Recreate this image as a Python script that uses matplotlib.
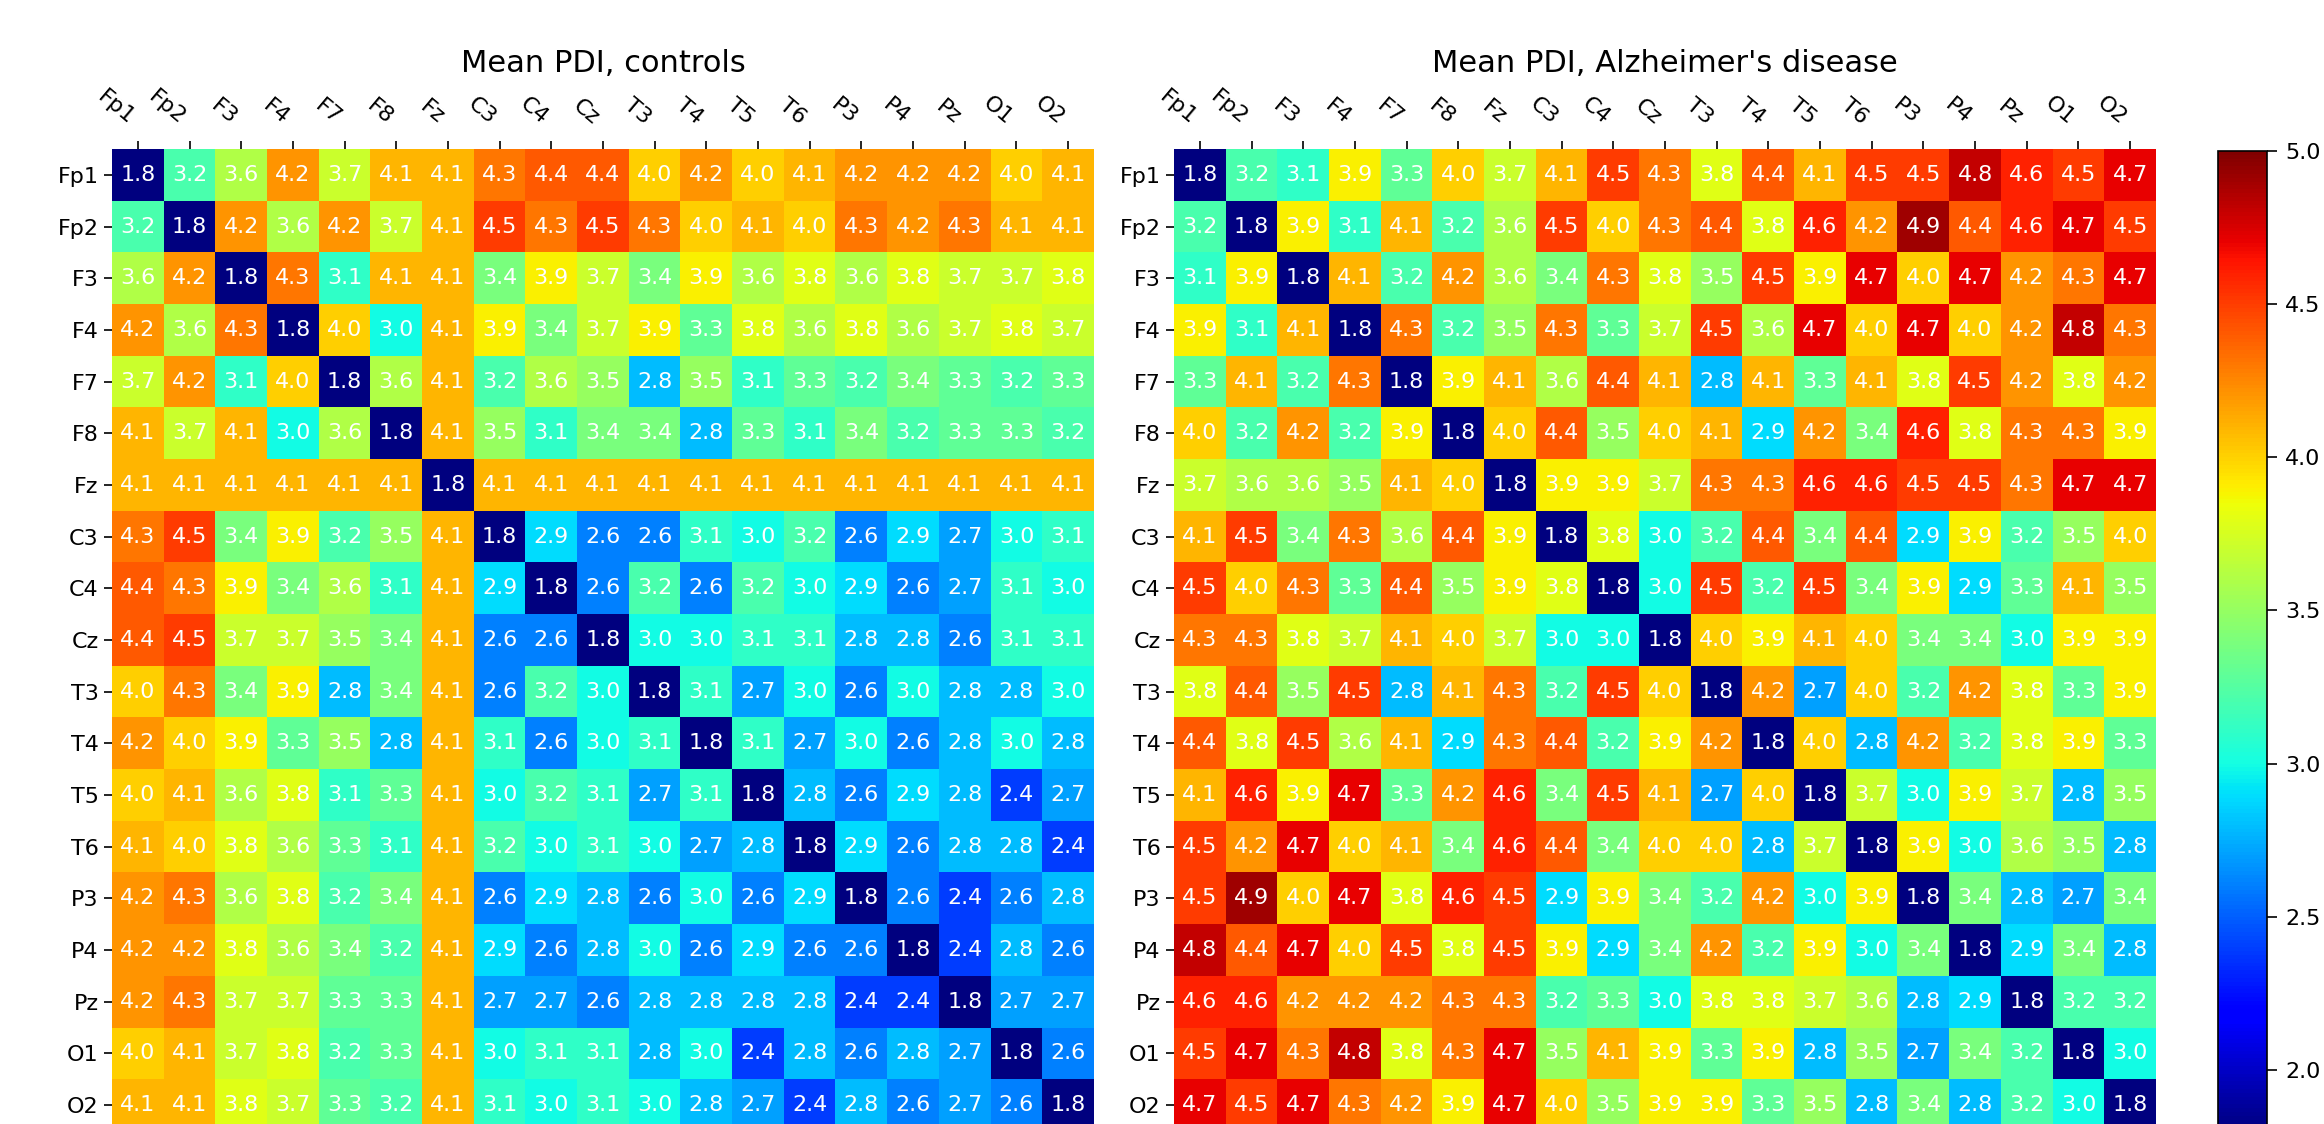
import numpy as np
import matplotlib
matplotlib.use("Agg")
import matplotlib.pyplot as plt

channels = ["Fp1", "Fp2", "F3", "F4", "F7", "F8", "Fz", "C3", "C4", "Cz",
            "T3", "T4", "T5", "T6", "P3", "P4", "Pz", "O1", "O2"]

# mean phase-difference index, healthy controls
pdi_controls = [
    [1.8, 3.2, 3.6, 4.2, 3.7, 4.1, 4.1, 4.3, 4.4, 4.4, 4.0, 4.2, 4.0, 4.1, 4.2, 4.2, 4.2, 4.0, 4.1],
    [3.2, 1.8, 4.2, 3.6, 4.2, 3.7, 4.1, 4.5, 4.3, 4.5, 4.3, 4.0, 4.1, 4.0, 4.3, 4.2, 4.3, 4.1, 4.1],
    [3.6, 4.2, 1.8, 4.3, 3.1, 4.1, 4.1, 3.4, 3.9, 3.7, 3.4, 3.9, 3.6, 3.8, 3.6, 3.8, 3.7, 3.7, 3.8],
    [4.2, 3.6, 4.3, 1.8, 4.0, 3.0, 4.1, 3.9, 3.4, 3.7, 3.9, 3.3, 3.8, 3.6, 3.8, 3.6, 3.7, 3.8, 3.7],
    [3.7, 4.2, 3.1, 4.0, 1.8, 3.6, 4.1, 3.2, 3.6, 3.5, 2.8, 3.5, 3.1, 3.3, 3.2, 3.4, 3.3, 3.2, 3.3],
    [4.1, 3.7, 4.1, 3.0, 3.6, 1.8, 4.1, 3.5, 3.1, 3.4, 3.4, 2.8, 3.3, 3.1, 3.4, 3.2, 3.3, 3.3, 3.2],
    [4.1, 4.1, 4.1, 4.1, 4.1, 4.1, 1.8, 4.1, 4.1, 4.1, 4.1, 4.1, 4.1, 4.1, 4.1, 4.1, 4.1, 4.1, 4.1],
    [4.3, 4.5, 3.4, 3.9, 3.2, 3.5, 4.1, 1.8, 2.9, 2.6, 2.6, 3.1, 3.0, 3.2, 2.6, 2.9, 2.7, 3.0, 3.1],
    [4.4, 4.3, 3.9, 3.4, 3.6, 3.1, 4.1, 2.9, 1.8, 2.6, 3.2, 2.6, 3.2, 3.0, 2.9, 2.6, 2.7, 3.1, 3.0],
    [4.4, 4.5, 3.7, 3.7, 3.5, 3.4, 4.1, 2.6, 2.6, 1.8, 3.0, 3.0, 3.1, 3.1, 2.8, 2.8, 2.6, 3.1, 3.1],
    [4.0, 4.3, 3.4, 3.9, 2.8, 3.4, 4.1, 2.6, 3.2, 3.0, 1.8, 3.1, 2.7, 3.0, 2.6, 3.0, 2.8, 2.8, 3.0],
    [4.2, 4.0, 3.9, 3.3, 3.5, 2.8, 4.1, 3.1, 2.6, 3.0, 3.1, 1.8, 3.1, 2.7, 3.0, 2.6, 2.8, 3.0, 2.8],
    [4.0, 4.1, 3.6, 3.8, 3.1, 3.3, 4.1, 3.0, 3.2, 3.1, 2.7, 3.1, 1.8, 2.8, 2.6, 2.9, 2.8, 2.4, 2.7],
    [4.1, 4.0, 3.8, 3.6, 3.3, 3.1, 4.1, 3.2, 3.0, 3.1, 3.0, 2.7, 2.8, 1.8, 2.9, 2.6, 2.8, 2.8, 2.4],
    [4.2, 4.3, 3.6, 3.8, 3.2, 3.4, 4.1, 2.6, 2.9, 2.8, 2.6, 3.0, 2.6, 2.9, 1.8, 2.6, 2.4, 2.6, 2.8],
    [4.2, 4.2, 3.8, 3.6, 3.4, 3.2, 4.1, 2.9, 2.6, 2.8, 3.0, 2.6, 2.9, 2.6, 2.6, 1.8, 2.4, 2.8, 2.6],
    [4.2, 4.3, 3.7, 3.7, 3.3, 3.3, 4.1, 2.7, 2.7, 2.6, 2.8, 2.8, 2.8, 2.8, 2.4, 2.4, 1.8, 2.7, 2.7],
    [4.0, 4.1, 3.7, 3.8, 3.2, 3.3, 4.1, 3.0, 3.1, 3.1, 2.8, 3.0, 2.4, 2.8, 2.6, 2.8, 2.7, 1.8, 2.6],
    [4.1, 4.1, 3.8, 3.7, 3.3, 3.2, 4.1, 3.1, 3.0, 3.1, 3.0, 2.8, 2.7, 2.4, 2.8, 2.6, 2.7, 2.6, 1.8],
]

# mean phase-difference index, Alzheimer's patients
pdi_ad = [
    [1.8, 3.2, 3.1, 3.9, 3.3, 4.0, 3.7, 4.1, 4.5, 4.3, 3.8, 4.4, 4.1, 4.5, 4.5, 4.8, 4.6, 4.5, 4.7],
    [3.2, 1.8, 3.9, 3.1, 4.1, 3.2, 3.6, 4.5, 4.0, 4.3, 4.4, 3.8, 4.6, 4.2, 4.9, 4.4, 4.6, 4.7, 4.5],
    [3.1, 3.9, 1.8, 4.1, 3.2, 4.2, 3.6, 3.4, 4.3, 3.8, 3.5, 4.5, 3.9, 4.7, 4.0, 4.7, 4.2, 4.3, 4.7],
    [3.9, 3.1, 4.1, 1.8, 4.3, 3.2, 3.5, 4.3, 3.3, 3.7, 4.5, 3.6, 4.7, 4.0, 4.7, 4.0, 4.2, 4.8, 4.3],
    [3.3, 4.1, 3.2, 4.3, 1.8, 3.9, 4.1, 3.6, 4.4, 4.1, 2.8, 4.1, 3.3, 4.1, 3.8, 4.5, 4.2, 3.8, 4.2],
    [4.0, 3.2, 4.2, 3.2, 3.9, 1.8, 4.0, 4.4, 3.5, 4.0, 4.1, 2.9, 4.2, 3.4, 4.6, 3.8, 4.3, 4.3, 3.9],
    [3.7, 3.6, 3.6, 3.5, 4.1, 4.0, 1.8, 3.9, 3.9, 3.7, 4.3, 4.3, 4.6, 4.6, 4.5, 4.5, 4.3, 4.7, 4.7],
    [4.1, 4.5, 3.4, 4.3, 3.6, 4.4, 3.9, 1.8, 3.8, 3.0, 3.2, 4.4, 3.4, 4.4, 2.9, 3.9, 3.2, 3.5, 4.0],
    [4.5, 4.0, 4.3, 3.3, 4.4, 3.5, 3.9, 3.8, 1.8, 3.0, 4.5, 3.2, 4.5, 3.4, 3.9, 2.9, 3.3, 4.1, 3.5],
    [4.3, 4.3, 3.8, 3.7, 4.1, 4.0, 3.7, 3.0, 3.0, 1.8, 4.0, 3.9, 4.1, 4.0, 3.4, 3.4, 3.0, 3.9, 3.9],
    [3.8, 4.4, 3.5, 4.5, 2.8, 4.1, 4.3, 3.2, 4.5, 4.0, 1.8, 4.2, 2.7, 4.0, 3.2, 4.2, 3.8, 3.3, 3.9],
    [4.4, 3.8, 4.5, 3.6, 4.1, 2.9, 4.3, 4.4, 3.2, 3.9, 4.2, 1.8, 4.0, 2.8, 4.2, 3.2, 3.8, 3.9, 3.3],
    [4.1, 4.6, 3.9, 4.7, 3.3, 4.2, 4.6, 3.4, 4.5, 4.1, 2.7, 4.0, 1.8, 3.7, 3.0, 3.9, 3.7, 2.8, 3.5],
    [4.5, 4.2, 4.7, 4.0, 4.1, 3.4, 4.6, 4.4, 3.4, 4.0, 4.0, 2.8, 3.7, 1.8, 3.9, 3.0, 3.6, 3.5, 2.8],
    [4.5, 4.9, 4.0, 4.7, 3.8, 4.6, 4.5, 2.9, 3.9, 3.4, 3.2, 4.2, 3.0, 3.9, 1.8, 3.4, 2.8, 2.7, 3.4],
    [4.8, 4.4, 4.7, 4.0, 4.5, 3.8, 4.5, 3.9, 2.9, 3.4, 4.2, 3.2, 3.9, 3.0, 3.4, 1.8, 2.9, 3.4, 2.8],
    [4.6, 4.6, 4.2, 4.2, 4.2, 4.3, 4.3, 3.2, 3.3, 3.0, 3.8, 3.8, 3.7, 3.6, 2.8, 2.9, 1.8, 3.2, 3.2],
    [4.5, 4.7, 4.3, 4.8, 3.8, 4.3, 4.7, 3.5, 4.1, 3.9, 3.3, 3.9, 2.8, 3.5, 2.7, 3.4, 3.2, 1.8, 3.0],
    [4.7, 4.5, 4.7, 4.3, 4.2, 3.9, 4.7, 4.0, 3.5, 3.9, 3.9, 3.3, 3.5, 2.8, 3.4, 2.8, 3.2, 3.0, 1.8],
]

titles = ["Mean PDI, controls", "Mean PDI, Alzheimer's disease"]
cbar_ticks = [2.0, 2.5, 3.0, 3.5, 4.0, 4.5, 5.0]
vmin, vmax = 1.8, 5.0

W, H = 2324, 1124
fig = plt.figure(figsize=(W / 100, H / 100), dpi=100)


def axes_px(x0, x1, y0, y1):
    # place an axes by its pixel box, measured from the top-left corner
    return fig.add_axes([x0 / W, 1 - y1 / H, (x1 - x0) / W, (y1 - y0) / H])


def draw_matrix(ax, mat, title):
    mat = np.asarray(mat)
    im = ax.imshow(mat, cmap="jet", vmin=vmin, vmax=vmax, aspect="auto",
                   interpolation="nearest")
    for i in range(mat.shape[0]):
        for j in range(mat.shape[1]):
            ax.text(j, i, f"{mat[i, j]:.1f}", ha="center", va="center",
                    color="white", fontsize=16)
    n = len(channels)
    ax.set_xticks(range(n))
    ax.set_yticks(range(n))
    ax.xaxis.tick_top()
    ax.set_xticklabels(channels, rotation=-40, ha="right", fontsize=16)
    ax.set_yticklabels(channels, fontsize=16)
    ax.tick_params(length=6, width=1.2)
    ax.tick_params(axis="x", pad=9)
    for sp in ax.spines.values():
        sp.set_visible(False)
    ax.set_title(title, fontsize=22, y=1.078, pad=0)
    return im


ax1 = axes_px(112, 1094, 149, 1131)
ax2 = axes_px(1174, 2156, 149, 1131)
cax = axes_px(2218, 2267, 151, 1131)

draw_matrix(ax1, pdi_controls, titles[0])
im = draw_matrix(ax2, pdi_ad, titles[1])

cb = fig.colorbar(im, cax=cax, ticks=cbar_ticks)
cb.ax.set_yticklabels([f"{t:.1f}" for t in cbar_ticks])
cb.ax.tick_params(labelsize=16, length=7, width=1.2, pad=6)
cb.outline.set_linewidth(1.2)

fig.savefig("out.png", dpi=100)
